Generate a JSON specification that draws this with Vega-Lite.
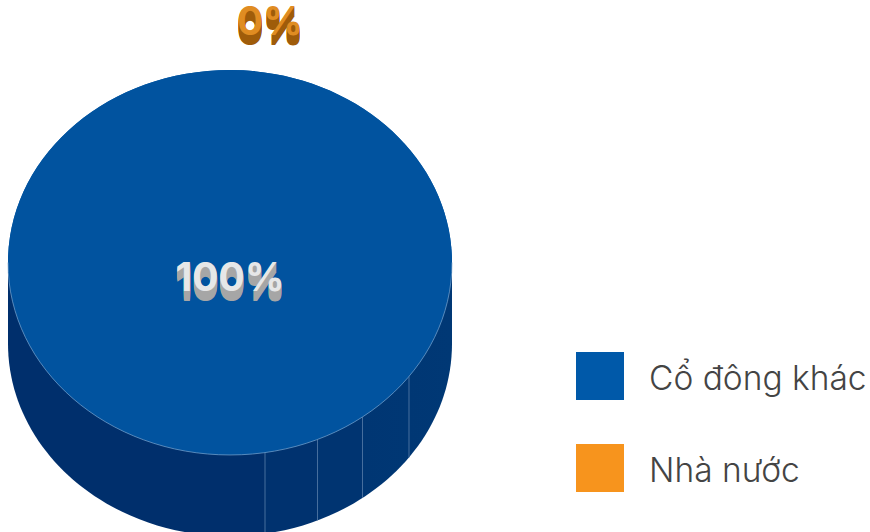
{"$schema":"https://vega.github.io/schema/vega-lite/v6.json","width":870,"height":532,"padding":0,"autosize":{"type":"none"},"background":"white","config":{"view":{"stroke":null},"text":{"font":"Inter","fontWeight":700,"fontSize":39,"baseline":"alphabetic","align":"center"}},
"data":{"values":[{"nhom":"Cổ đông khác","ty_le":100,"nhan":"100%"},{"nhom":"Nhà nước","ty_le":0,"nhan":"0%"}]},
"layer":[
{"encoding":{"x":{"datum":230,"type":"quantitative","scale":{"domain":[0,870],"range":[0,870],"nice":false,"zero":false},"axis":null},"y":{"datum":262.5,"type":"quantitative","scale":{"domain":[0,532],"range":[0,532],"nice":false,"zero":false},"axis":null},"size":{"field":"ty_le","type":"quantitative","scale":{"type":"linear","domain":[0,100],"range":[0,197136]},"legend":null}},
"layer":[
{"mark":{"type":"point","filled":true,"opacity":1,"strokeWidth":0,"shape":"M-1,0 L-1,.365 C-1,.8439 -.5523,1.232 0,1.232 C.5523,1.232 1,.8439 1,.365 L1,0 Z","fill":{"x1":0,"y1":0,"x2":1,"y2":0,"gradient":"linear","stops":[{"offset":0,"color":"#002f6c"},{"offset":0.579,"color":"#002f6c"},{"offset":0.579,"color":"#00326f"},{"offset":0.697,"color":"#00326f"},{"offset":0.697,"color":"#003471"},{"offset":0.798,"color":"#003471"},{"offset":0.798,"color":"#003673"},{"offset":1,"color":"#003875"}]}}},
{"mark":{"type":"point","filled":false,"opacity":1,"fill":null,"stroke":"#4f76a3","strokeWidth":0.9,"shape":"M.1577,.8563 L.1577,1.2213 M.3941,.7968 L.3941,1.1618 M.5968,.6955 L.5968,1.0605 M.8063,.5131 L.8063,.8781"}},
{"mark":{"type":"point","filled":true,"opacity":1,"strokeWidth":0,"shape":"M-1,0 C-1,-.4789 -.5523,-.867 0,-.867 C.5523,-.867 1,-.4789 1,0 C1,.4789 .5523,.867 0,.867 C-.5523,.867 -1,.4789 -1,0 Z"},
 "encoding":{"color":{"field":"nhom","type":"nominal","sort":null,"scale":{"domain":["Cổ đông khác","Nhà nước"],"range":["#0059a9","#f7941d"]},"legend":{"title":null,"orient":"none","legendX":576,"legendY":352,"padding":0,"symbolType":"square","symbolSize":2304,"symbolStrokeWidth":0,"symbolOpacity":1,"labelFont":"Inter","labelFontWeight":300,"labelFontSize":33.5,"labelColor":"#444444","labelOffset":25,"rowPadding":44,"labelLimit":300,"encoding":{"labels":{"dy":{"value":4}}}}}}},
{"mark":{"type":"point","filled":true,"opacity":1,"strokeWidth":0,"color":"#01539f","shape":"M-1,0 C-1,-.4789 -.5523,-.867 0,-.867 C.5523,-.867 1,-.4789 1,0 C1,.4789 .5523,.867 0,.867 C-.5523,.867 -1,.4789 -1,0 Z"}},
{"mark":{"type":"point","filled":false,"opacity":1,"fill":null,"stroke":"#7ba3cc","strokeWidth":0.7,"shape":"M-1,0 C-1,.4789 -.5523,.867 0,.867 C.5523,.867 1,.4789 1,0"}}
]},
{"transform":[{"filter":"datum.ty_le == 100"}],"encoding":{"x":{"datum":230,"type":"quantitative"},"y":{"datum":291,"type":"quantitative"},"text":{"field":"nhan","type":"nominal"}},
"layer":[
{"mark":{"type":"text","color":"#a6a6a6","dy":10}},{"mark":{"type":"text","color":"#a6a6a6","dy":9}},{"mark":{"type":"text","color":"#a6a6a6","dy":8}},{"mark":{"type":"text","color":"#a6a6a6","dy":7}},{"mark":{"type":"text","color":"#a6a6a6","dy":6}},{"mark":{"type":"text","color":"#a6a6a6","dy":5}},{"mark":{"type":"text","color":"#a6a6a6","dy":4}},{"mark":{"type":"text","color":"#a6a6a6","dy":3}},{"mark":{"type":"text","color":"#a6a6a6","dy":2}},{"mark":{"type":"text","color":"#a6a6a6","dy":1}},
{"mark":{"type":"text","color":"#e6e7e8"}}
]},
{"transform":[{"filter":"datum.ty_le == 0"}],"encoding":{"x":{"datum":270,"type":"quantitative"},"y":{"datum":35,"type":"quantitative"},"text":{"field":"nhan","type":"nominal"}},
"layer":[
{"mark":{"type":"text","color":"#9f5c0a","dy":10}},{"mark":{"type":"text","color":"#9f5c0a","dy":9}},{"mark":{"type":"text","color":"#9f5c0a","dy":8}},{"mark":{"type":"text","color":"#9f5c0a","dy":7}},{"mark":{"type":"text","color":"#9f5c0a","dy":6}},{"mark":{"type":"text","color":"#9f5c0a","dy":5}},{"mark":{"type":"text","color":"#9f5c0a","dy":4}},{"mark":{"type":"text","color":"#9f5c0a","dy":3}},{"mark":{"type":"text","color":"#9f5c0a","dy":2}},{"mark":{"type":"text","color":"#9f5c0a","dy":1}},
{"mark":{"type":"text","color":"#e08c22"}}
]}
]}
